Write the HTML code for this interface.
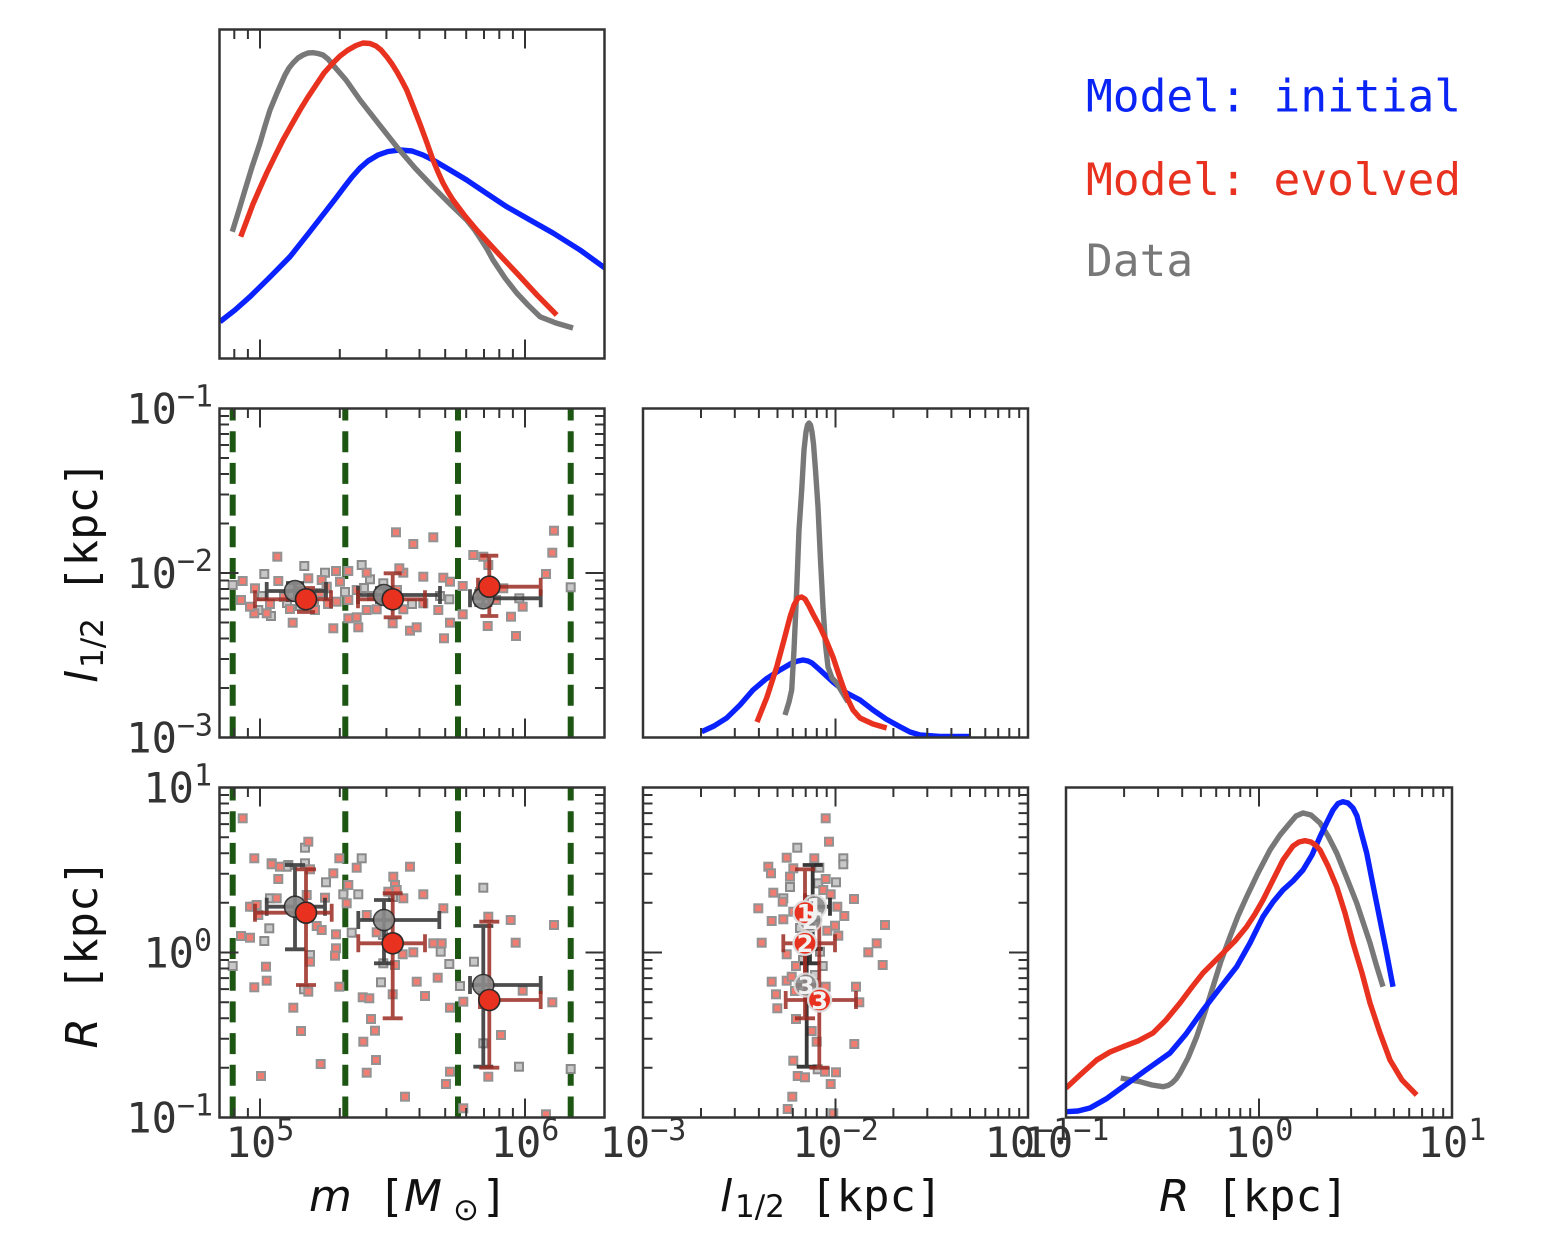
<!DOCTYPE html>
<html>
<head>
<meta charset="utf-8">
<style>
html,body{margin:0;padding:0;background:#fff;}
svg{display:block;}
.tk{font-family:"DejaVu Sans Mono","Liberation Mono",monospace;font-size:42px;fill:#333;}
.sup{font-size:30px;}
.mono{font-family:"DejaVu Sans Mono","Liberation Mono",monospace;font-size:44px;fill:#111;}
.it{font-family:"DejaVu Sans","Liberation Sans",sans-serif;font-style:oblique;font-size:44px;fill:#111;}
.sub{font-family:"DejaVu Sans","Liberation Sans",sans-serif;font-size:31px;fill:#111;}
.leg{font-family:"DejaVu Sans Mono","Liberation Mono",monospace;font-size:44.5px;}
.num{font-family:"DejaVu Sans","Liberation Sans",sans-serif;font-weight:bold;font-size:24px;fill:#f2f2f2;text-anchor:middle;}
</style>
</head>
<body>
<svg width="1562" height="1244" viewBox="0 0 1562 1244" xmlns="http://www.w3.org/2000/svg">
<defs>
<clipPath id="cA"><rect x="219.5" y="29.5" width="385" height="329"/></clipPath>
<clipPath id="cB"><rect x="219.5" y="408.5" width="385" height="329"/></clipPath>
<clipPath id="cC"><rect x="643" y="408.5" width="385" height="329"/></clipPath>
<clipPath id="cD"><rect x="219.5" y="787.5" width="385" height="330"/></clipPath>
<clipPath id="cE"><rect x="643" y="787.5" width="385" height="330"/></clipPath>
<clipPath id="cF"><rect x="1066" y="787.5" width="386" height="330"/></clipPath>
<rect id="rs" x="-4" y="-4" width="8" height="8" fill="#f07c72" stroke="#939393" stroke-width="2"/>
<rect id="gs" x="-4" y="-4" width="8" height="8" fill="#c8c8c8" stroke="#8a8a8a" stroke-width="2"/>
<path id="mx" fill="none" stroke="#333" stroke-width="2" d="M260 0v19M525 0v19M234.3 0v9.5M247.9 0v9.5M339.8 0v9.5M386.4 0v9.5M419.5 0v9.5M445.2 0v9.5M466.2 0v9.5M484 0v9.5M499.3 0v9.5M512.9 0v9.5"/>
<path id="lx" fill="none" stroke="#333" stroke-width="2" d="M835.5 0v19M701 0v9.5M734.8 0v9.5M758.9 0v9.5M777.5 0v9.5M792.8 0v9.5M805.7 0v9.5M816.8 0v9.5M826.7 0v9.5M893.4 0v9.5M927.3 0v9.5M951.4 0v9.5M970 0v9.5M985.3 0v9.5M998.2 0v9.5M1009.3 0v9.5M1019.2 0v9.5"/>
<path id="rx" fill="none" stroke="#333" stroke-width="2" d="M1259 0v19M1124.1 0v9.5M1158.1 0v9.5M1182.2 0v9.5M1200.9 0v9.5M1216.2 0v9.5M1229.1 0v9.5M1240.3 0v9.5M1250.2 0v9.5M1317.1 0v9.5M1351.1 0v9.5M1375.2 0v9.5M1393.9 0v9.5M1409.2 0v9.5M1422.1 0v9.5M1433.3 0v9.5M1443.2 0v9.5"/>
<path id="ly" fill="none" stroke="#333" stroke-width="2" d="M0 573h19M0 688h9.5M0 659h9.5M0 638.5h9.5M0 622.5h9.5M0 609.5h9.5M0 598.5h9.5M0 589h9.5M0 580.5h9.5M0 523.5h9.5M0 494.5h9.5M0 474h9.5M0 458h9.5M0 445h9.5M0 434h9.5M0 424.5h9.5M0 416h9.5"/>
<path id="ry" fill="none" stroke="#333" stroke-width="2" d="M0 952.5h19M0 1067.8h9.5M0 1038.8h9.5M0 1018.2h9.5M0 1002.2h9.5M0 989.1h9.5M0 978.1h9.5M0 968.5h9.5M0 960h9.5M0 902.8h9.5M0 873.8h9.5M0 853.2h9.5M0 837.2h9.5M0 824.1h9.5M0 813.1h9.5M0 803.5h9.5M0 795h9.5"/>
</defs>

<!-- ===== Panel A: top-left KDE of m ===== -->
<g clip-path="url(#cA)" fill="none" stroke-width="5.4" stroke-linejoin="round">
<polyline stroke="#0a22ff" points="220,321.7 235,310 250,296.7 270,277 290,256.7 308,234 326.7,210 336,198 345,186 352,177 360,168 368,161 378,155 388,151.5 400,150 412,151 423,155 433,160 450,170 466.7,180 486,193 506.7,206.7 530,220 553,233 580,250 605,268"/>
<polyline stroke="#787878" points="232.3,231.7 239,210 245,190 252,167 260,143 265,126 270,110 277,93 285,75 289,68 293,63 298,58 303,55 308,53 313,52.7 318,53.5 323,55 328,59 333,65 346,80 360,100 378,123 396.7,146.7 415,168 433,187 450,204 466.7,220 474,229 480,238 487,249 493,260 505,278 516.7,293 528,305 540,316.7 556,323 573,328"/>
<polyline stroke="#e8321f" points="240.7,236.7 247,220 253,204 260,188 266.7,173 275,156 283,140 292,124 300,110 308,97 316,85 324,73 333,63 340,56 348,50 356,45.5 363,43 370,43.5 376,46 381,50 386.7,56.7 392,64 397,72 402,81 406.7,90 413,106 420,124 427,143 433,160 438,172 443,183 448,192 453,200 465,216 476.7,230 496,251 516.7,273 537,295 556.7,315"/>
</g>
<rect x="219.5" y="29.5" width="385" height="329" fill="none" stroke="#333" stroke-width="2.5"/>
<use href="#mx" y="29.5"/>
<use href="#mx" transform="translate(0,358.5) scale(1,-1)"/>

<!-- ===== Panel B: l vs m ===== -->
<g clip-path="url(#cB)">
<g stroke="#1d5512" stroke-width="6" stroke-dasharray="21 10.7" fill="none">
<line x1="232.7" y1="737.5" x2="232.7" y2="408"/>
<line x1="345.3" y1="737.5" x2="345.3" y2="408"/>
<line x1="458" y1="737.5" x2="458" y2="408"/>
<line x1="570.7" y1="737.5" x2="570.7" y2="408"/>
</g>
<g>
<use href="#gs" x="232.7" y="585"/><use href="#gs" x="264.3" y="574"/><use href="#gs" x="304.3" y="566"/><use href="#gs" x="325" y="572.7"/><use href="#gs" x="361.7" y="565"/><use href="#gs" x="370" y="579.3"/><use href="#gs" x="570.7" y="587.3"/><use href="#gs" x="449.3" y="599.3"/><use href="#gs" x="519.3" y="598.3"/><use href="#gs" x="271" y="616"/><use href="#gs" x="326.7" y="588.3"/><use href="#gs" x="258.3" y="610"/><use href="#gs" x="383.3" y="583.3"/><use href="#gs" x="262" y="596"/><use href="#gs" x="345" y="592"/><use href="#gs" x="364" y="588"/><use href="#gs" x="440" y="596"/><use href="#gs" x="412" y="604"/><use href="#gs" x="287" y="603"/><use href="#gs" x="300" y="606"/>
</g>
<g>
<use href="#rs" x="242.7" y="581"/><use href="#rs" x="277.3" y="556.7"/><use href="#rs" x="396" y="532.3"/><use href="#rs" x="413.3" y="544"/><use href="#rs" x="433.3" y="537.3"/><use href="#rs" x="554" y="530.7"/><use href="#rs" x="552.3" y="552.7"/><use href="#rs" x="473.3" y="555"/><use href="#rs" x="483.3" y="556.7"/><use href="#rs" x="488.3" y="565"/><use href="#rs" x="546" y="574"/><use href="#rs" x="336" y="571"/><use href="#rs" x="348.3" y="571"/><use href="#rs" x="366.7" y="572.7"/><use href="#rs" x="403.3" y="572.7"/><use href="#rs" x="423.3" y="576.7"/><use href="#rs" x="443.3" y="577.7"/><use href="#rs" x="450" y="581.7"/><use href="#rs" x="308.3" y="578.3"/><use href="#rs" x="321.7" y="580"/><use href="#rs" x="278.3" y="581"/><use href="#rs" x="399.3" y="568.3"/><use href="#rs" x="462.7" y="586"/><use href="#rs" x="503.3" y="588.3"/><use href="#rs" x="522.7" y="606.7"/><use href="#rs" x="511" y="616.7"/><use href="#rs" x="516" y="636"/><use href="#rs" x="487.7" y="626"/><use href="#rs" x="450" y="622.7"/><use href="#rs" x="444" y="638.3"/><use href="#rs" x="410" y="630.7"/><use href="#rs" x="416.7" y="627.3"/><use href="#rs" x="392.7" y="623.3"/><use href="#rs" x="356.7" y="617.3"/><use href="#rs" x="348.3" y="618.3"/><use href="#rs" x="358.3" y="627.3"/><use href="#rs" x="333.3" y="628.3"/><use href="#rs" x="292.7" y="622.7"/><use href="#rs" x="254.3" y="613.3"/><use href="#rs" x="266.7" y="613.3"/><use href="#rs" x="241" y="600"/><use href="#rs" x="250" y="606.7"/><use href="#rs" x="255" y="588.3"/><use href="#rs" x="340" y="581.7"/><use href="#rs" x="366.7" y="610"/><use href="#rs" x="376.7" y="609.3"/><use href="#rs" x="403.3" y="609.3"/><use href="#rs" x="438.3" y="610"/><use href="#rs" x="462.7" y="614.3"/><use href="#rs" x="423.3" y="603.3"/><use href="#rs" x="348.3" y="600"/><use href="#rs" x="336.7" y="601.7"/><use href="#rs" x="356.7" y="590"/><use href="#rs" x="326.7" y="586.7"/><use href="#rs" x="300" y="595"/><use href="#rs" x="314" y="604"/><use href="#rs" x="320" y="593"/><use href="#rs" x="270" y="604"/><use href="#rs" x="284" y="597"/><use href="#rs" x="290" y="609"/><use href="#rs" x="315" y="610"/><use href="#rs" x="328" y="604"/><use href="#rs" x="372" y="596"/><use href="#rs" x="397" y="590"/><use href="#rs" x="480" y="592"/><use href="#rs" x="496" y="600"/>
</g>
<g fill="none" stroke-width="3.8">
<path stroke="#3a3a3a" opacity="0.9" d="M266.7 591H326M295 583V600M266.7 582v18M326 582v18M286 583h18M286 600h18"/>
<path stroke="#3a3a3a" opacity="0.9" d="M358 595H440M384 588V602M358 586v18M440 586v18M375 588h18M375 602h18"/>
<path stroke="#3a3a3a" opacity="0.9" d="M470 598.3H540.7M483.3 591V605M470 589.3v18M540.7 589.3v18M474.3 591h18M474.3 605h18"/>
<path stroke="#9a2a22" opacity="0.85" d="M255 599.3H331M306 588V612M255 590.3v18M331 590.3v18M297 588h18M297 612h18"/>
<path stroke="#9a2a22" opacity="0.85" d="M358 599.3H425M392.7 573.3V617.3M358 590.3v18M425 590.3v18M383.7 573.3h18M383.7 617.3h18"/>
<path stroke="#9a2a22" opacity="0.85" d="M478 586.7H540.7M489.3 555.7V616M478 577.7v18M540.7 577.7v18M480.3 555.7h18M480.3 616h18"/>
</g>
<g stroke="#2a2a2a" stroke-width="1.6">
<circle cx="295" cy="591" r="10.5" fill="#8a8a8a" opacity="0.9"/>
<circle cx="384" cy="595" r="10.5" fill="#8a8a8a" opacity="0.9"/>
<circle cx="483.3" cy="598.3" r="10.5" fill="#8a8a8a" opacity="0.9"/>
<circle cx="306" cy="599.3" r="10.5" fill="#e8321f"/>
<circle cx="392.7" cy="599.3" r="10.5" fill="#e8321f"/>
<circle cx="489.3" cy="586.7" r="10.5" fill="#e8321f"/>
</g>
</g>
<rect x="219.5" y="408.5" width="385" height="329" fill="none" stroke="#333" stroke-width="2.5"/>
<use href="#mx" y="408.5"/>
<use href="#mx" transform="translate(0,737.5) scale(1,-1)"/>
<use href="#ly" x="219.5"/>
<use href="#ly" transform="translate(604.5,0) scale(-1,1)"/>

<!-- ===== Panel C: KDE of l ===== -->
<g clip-path="url(#cC)" fill="none" stroke-width="5.4" stroke-linejoin="round">
<polyline stroke="#0a22ff" points="701.7,731.7 714,726 726.7,718 740,705 753,690 766,679 780,670 792,663 798,661 803,660 808,661 812,663 820,670 833,682 846.7,693 860,700 873,710 886,719 900,726.7 910,732 920,735 940,736.5 970,736.5"/>
<polyline stroke="#787878" points="785,715 789,702 791.7,690 794,650 796.7,590 799,530 801.7,490 804,450 806,432 807.5,425 809,423 810.5,425 812,432 813.5,444 815.5,470 818,507 820.5,560 823,607 825.5,645 828,667 832,678 836.7,683 842,692 848,702"/>
<polyline stroke="#e8321f" points="757,722 767,697 776.7,667 784,640 790,617 794,605 798,598 801.7,597 805,599 809,606 813,614 820,627 826,640 833,657 840,678 846.7,697 853,710 860,718 873,724 886.7,728"/>
</g>
<rect x="643" y="408.5" width="385" height="329" fill="none" stroke="#333" stroke-width="2.5"/>
<use href="#lx" y="408.5"/>
<use href="#lx" transform="translate(0,737.5) scale(1,-1)"/>

<!-- ===== Panel D: R vs m ===== -->
<g clip-path="url(#cD)">
<g stroke="#1d5512" stroke-width="6" stroke-dasharray="21 10.7" fill="none">
<line x1="232.7" y1="1117.5" x2="232.7" y2="787"/>
<line x1="345.3" y1="1117.5" x2="345.3" y2="787"/>
<line x1="458" y1="1117.5" x2="458" y2="787"/>
<line x1="570.7" y1="1117.5" x2="570.7" y2="787"/>
</g>
<g>
<use href="#gs" x="305" y="847.7"/><use href="#gs" x="361.7" y="858.3"/><use href="#gs" x="288.3" y="865"/><use href="#gs" x="305" y="863.3"/><use href="#gs" x="326" y="882.3"/><use href="#gs" x="358.3" y="894.3"/><use href="#gs" x="483.3" y="887.7"/><use href="#gs" x="343.3" y="894.3"/><use href="#gs" x="270" y="898.3"/><use href="#gs" x="269.3" y="928.3"/><use href="#gs" x="264.3" y="941"/><use href="#gs" x="351.7" y="932.7"/><use href="#gs" x="440.7" y="951.7"/><use href="#gs" x="310" y="955"/><use href="#gs" x="474" y="961.7"/><use href="#gs" x="449.3" y="964"/><use href="#gs" x="232.7" y="966"/><use href="#gs" x="381" y="982.3"/><use href="#gs" x="460" y="986"/><use href="#gs" x="304" y="989.3"/><use href="#gs" x="483.3" y="1043.3"/><use href="#gs" x="519" y="1066.7"/><use href="#gs" x="570.7" y="1069"/><use href="#gs" x="383.3" y="963.3"/><use href="#gs" x="271.7" y="863.3"/><use href="#gs" x="286.7" y="866.7"/><use href="#gs" x="383" y="935"/><use href="#gs" x="393" y="897"/><use href="#gs" x="253.3" y="906.7"/>
</g>
<g>
<use href="#rs" x="242.7" y="818.3"/><use href="#rs" x="308.3" y="841.7"/><use href="#rs" x="254.3" y="858.3"/><use href="#rs" x="339.3" y="858.3"/><use href="#rs" x="271.7" y="864.3"/><use href="#rs" x="280" y="866.7"/><use href="#rs" x="356.7" y="867.7"/><use href="#rs" x="410" y="866.7"/><use href="#rs" x="333.3" y="873.3"/><use href="#rs" x="278.3" y="879"/><use href="#rs" x="393.3" y="876.7"/><use href="#rs" x="395" y="885"/><use href="#rs" x="310" y="869.3"/><use href="#rs" x="348.3" y="885"/><use href="#rs" x="388.3" y="891.7"/><use href="#rs" x="396.7" y="890"/><use href="#rs" x="423.3" y="894.3"/><use href="#rs" x="403.3" y="898.3"/><use href="#rs" x="325" y="897.7"/><use href="#rs" x="306.7" y="895"/><use href="#rs" x="276.7" y="898.3"/><use href="#rs" x="250" y="906.7"/><use href="#rs" x="258.3" y="915"/><use href="#rs" x="443.3" y="908.3"/><use href="#rs" x="366.7" y="915"/><use href="#rs" x="346.7" y="903.3"/><use href="#rs" x="488.3" y="916.7"/><use href="#rs" x="510.7" y="920"/><use href="#rs" x="554" y="925"/><use href="#rs" x="316.7" y="926"/><use href="#rs" x="321.7" y="930"/><use href="#rs" x="336" y="934.3"/><use href="#rs" x="376.7" y="932.3"/><use href="#rs" x="515.7" y="942.7"/><use href="#rs" x="241" y="936"/><use href="#rs" x="250" y="937.7"/><use href="#rs" x="433.3" y="943.3"/><use href="#rs" x="441.7" y="943.3"/><use href="#rs" x="336" y="948.3"/><use href="#rs" x="335" y="955.7"/><use href="#rs" x="413.3" y="952.3"/><use href="#rs" x="402.7" y="954.3"/><use href="#rs" x="310" y="961.7"/><use href="#rs" x="395" y="965"/><use href="#rs" x="266" y="966.7"/><use href="#rs" x="266.7" y="980.7"/><use href="#rs" x="254.3" y="987.3"/><use href="#rs" x="339.3" y="986.7"/><use href="#rs" x="416.7" y="981.7"/><use href="#rs" x="437.7" y="977.7"/><use href="#rs" x="425" y="996"/><use href="#rs" x="362.7" y="997.3"/><use href="#rs" x="369.3" y="998.3"/><use href="#rs" x="392.7" y="994.3"/><use href="#rs" x="522.7" y="990.7"/><use href="#rs" x="552.3" y="1002.3"/><use href="#rs" x="463.3" y="1001.7"/><use href="#rs" x="450" y="1007.7"/><use href="#rs" x="293.3" y="1007.7"/><use href="#rs" x="371" y="1019"/><use href="#rs" x="375" y="1030.7"/><use href="#rs" x="301" y="1031"/><use href="#rs" x="363.3" y="1041.7"/><use href="#rs" x="501" y="1035"/><use href="#rs" x="376" y="1060"/><use href="#rs" x="320.7" y="1064"/><use href="#rs" x="366.7" y="1072.7"/><use href="#rs" x="261" y="1076"/><use href="#rs" x="450" y="1071.7"/><use href="#rs" x="446" y="1084"/><use href="#rs" x="488.3" y="1076.7"/><use href="#rs" x="405" y="1096.7"/><use href="#rs" x="463.3" y="1108.3"/><use href="#rs" x="546" y="1114.3"/><use href="#rs" x="308.3" y="991.7"/><use href="#rs" x="256.7" y="905"/>
</g>
<g fill="none" stroke-width="3.8">
<path stroke="#3a3a3a" opacity="0.9" d="M266.7 906.7H325M295 865V949.3M266.7 897.7v18M325 897.7v18M285 865h20M285 949.3h20"/>
<path stroke="#3a3a3a" opacity="0.9" d="M358.3 920H439.3M384 900V963.3M358.3 911v18M439.3 911v18M374 900h20M374 963.3h20"/>
<path stroke="#3a3a3a" opacity="0.9" d="M470 985H540.7M483.3 926V1066.7M470 976v18M540.7 976v18M473.3 926h20M473.3 1066.7h20"/>
<path stroke="#9a2a22" opacity="0.85" d="M255 912.7H331.7M306 869.3V985M255 903.7v18M331.7 903.7v18M296 869.3h20M296 985h20"/>
<path stroke="#9a2a22" opacity="0.85" d="M358.3 943.3H425M392.7 893.3V1018.3M358.3 934.3v18M425 934.3v18M382.7 893.3h20M382.7 1018.3h20"/>
<path stroke="#9a2a22" opacity="0.85" d="M480 1000H540.7M489.3 921.7V1067.7M480 991v18M540.7 991v18M479.3 921.7h20M479.3 1067.7h20"/>
</g>
<g stroke="#2a2a2a" stroke-width="1.6">
<circle cx="295" cy="906.7" r="10.5" fill="#8a8a8a" opacity="0.9"/>
<circle cx="384" cy="920" r="10.5" fill="#8a8a8a" opacity="0.9"/>
<circle cx="483.3" cy="985" r="10.5" fill="#8a8a8a" opacity="0.9"/>
<circle cx="306" cy="912.7" r="10.5" fill="#e8321f"/>
<circle cx="392.7" cy="943.3" r="10.5" fill="#e8321f"/>
<circle cx="489.3" cy="1000" r="10.5" fill="#e8321f"/>
</g>
</g>
<rect x="219.5" y="787.5" width="385" height="330" fill="none" stroke="#333" stroke-width="2.5"/>
<use href="#mx" y="787.5"/>
<use href="#mx" transform="translate(0,1117.5) scale(1,-1)"/>
<use href="#ry" x="219.5"/>
<use href="#ry" transform="translate(604.5,0) scale(-1,1)"/>

<!-- ===== Panel E: R vs l ===== -->
<g clip-path="url(#cE)">
<g>
<use href="#gs" x="797.3" y="847.7"/><use href="#gs" x="843.3" y="858.3"/><use href="#gs" x="843.3" y="864.3"/><use href="#gs" x="819.3" y="867.7"/><use href="#gs" x="836" y="882.3"/><use href="#gs" x="818.3" y="883.3"/><use href="#gs" x="783.3" y="898.3"/><use href="#gs" x="810" y="900"/><use href="#gs" x="820" y="951.7"/><use href="#gs" x="822.7" y="966"/><use href="#gs" x="817.7" y="1069.3"/><use href="#gs" x="790" y="887"/><use href="#gs" x="812" y="910"/><use href="#gs" x="800" y="928"/><use href="#gs" x="803" y="960"/><use href="#gs" x="815" y="975"/>
</g>
<g>
<use href="#rs" x="825.7" y="818.3"/><use href="#rs" x="829" y="841.7"/><use href="#rs" x="786.7" y="857.7"/><use href="#rs" x="814.3" y="858.3"/><use href="#rs" x="768.3" y="866.7"/><use href="#rs" x="771" y="873.3"/><use href="#rs" x="793.3" y="868.3"/><use href="#rs" x="790" y="876.7"/><use href="#rs" x="825.7" y="879"/><use href="#rs" x="773.3" y="892.7"/><use href="#rs" x="823.3" y="890"/><use href="#rs" x="830.7" y="894.3"/><use href="#rs" x="854" y="899"/><use href="#rs" x="782.7" y="901.7"/><use href="#rs" x="758.3" y="908.3"/><use href="#rs" x="837.3" y="906.7"/><use href="#rs" x="844.3" y="916"/><use href="#rs" x="771.7" y="921"/><use href="#rs" x="783.3" y="919.3"/><use href="#rs" x="793.3" y="911.7"/><use href="#rs" x="885" y="925"/><use href="#rs" x="835" y="925.7"/><use href="#rs" x="827.3" y="930.7"/><use href="#rs" x="838.3" y="935.7"/><use href="#rs" x="761.7" y="942.7"/><use href="#rs" x="876.7" y="943.3"/><use href="#rs" x="868.3" y="952.3"/><use href="#rs" x="786.7" y="954.3"/><use href="#rs" x="882.7" y="965"/><use href="#rs" x="796" y="966"/><use href="#rs" x="771.7" y="981.7"/><use href="#rs" x="786.7" y="980.7"/><use href="#rs" x="791.7" y="976.7"/><use href="#rs" x="856" y="986.7"/><use href="#rs" x="825.7" y="986.7"/><use href="#rs" x="776" y="994.3"/><use href="#rs" x="795" y="991"/><use href="#rs" x="859.3" y="1002.3"/><use href="#rs" x="777.3" y="1008.3"/><use href="#rs" x="796" y="1019"/><use href="#rs" x="811.7" y="1031"/><use href="#rs" x="816.7" y="1041.7"/><use href="#rs" x="854.3" y="1044"/><use href="#rs" x="793.3" y="1060.7"/><use href="#rs" x="797.7" y="1076"/><use href="#rs" x="805" y="1077.3"/><use href="#rs" x="825" y="1071.7"/><use href="#rs" x="836" y="1072.3"/><use href="#rs" x="830.7" y="1084"/><use href="#rs" x="792.3" y="1096.7"/><use href="#rs" x="787.7" y="1109"/><use href="#rs" x="833.3" y="1113.3"/>
</g>
<g fill="none" stroke-width="3.8">
<path stroke="#222" opacity="0.9" d="M803 906.7H830M812.7 865V949M830 897.7v18M802.7 865h20M802.7 949h20"/>
<path stroke="#222" opacity="0.9" d="M800 920H822M810 900V963.3M800 963.3h20"/>
<path stroke="#222" opacity="0.9" d="M796 985H816M806.7 926V1066.7M796.7 1066.7h20"/>
<path stroke="#9a2a22" opacity="0.85" d="M792 912.7H820M805 869.3V985M795 869.3h20M795 985h20"/>
<path stroke="#9a2a22" opacity="0.85" d="M783.3 943.3H835M805 893.3V1018.3M783.3 934.3v18M835 934.3v18M795 1018.3h20"/>
<path stroke="#9a2a22" opacity="0.85" d="M785.7 1000H856M819.3 921.7V1067.7M785.7 991v18M856 991v18M809.3 1067.7h20"/>
</g>
<g stroke="#dcdcdc" stroke-width="2.2">
<circle cx="814.6" cy="906.7" r="11.5" fill="#8a8a8a" opacity="0.9"/>
<circle cx="810" cy="920" r="11.5" fill="#8a8a8a" opacity="0.9"/>
<circle cx="806" cy="985" r="11.5" fill="#8a8a8a" opacity="0.9"/>
<circle cx="805" cy="912.7" r="11.5" fill="#e8321f"/>
<circle cx="805" cy="943.3" r="11.5" fill="#e8321f"/>
<circle cx="819.6" cy="1000" r="11.5" fill="#e8321f"/>
</g>
<text class="num" x="814.6" y="915.5">1</text>
<text class="num" x="810" y="929">2</text>
<text class="num" x="806" y="994">3</text>
<text class="num" x="805" y="921.5">1</text>
<text class="num" x="805" y="952">2</text>
<text class="num" x="819.6" y="1009">3</text>
</g>
<rect x="643" y="787.5" width="385" height="330" fill="none" stroke="#333" stroke-width="2.5"/>
<use href="#lx" y="787.5"/>
<use href="#lx" transform="translate(0,1117.5) scale(1,-1)"/>
<use href="#ry" x="643"/>
<use href="#ry" transform="translate(1028,0) scale(-1,1)"/>

<!-- ===== Panel F: KDE of R ===== -->
<g clip-path="url(#cF)" fill="none" stroke-width="5.4" stroke-linejoin="round">
<polyline stroke="#787878" points="1120.7,1078 1140,1081.7 1152,1085 1163,1086.7 1168,1085.5 1172,1083 1176,1079 1180,1073 1188,1058 1196.7,1036.7 1205,1012 1213,986.7 1221,961 1230,936.7 1238,916 1246.7,896.7 1258,873 1270,850 1280,835 1290,823 1296,816 1303,813 1311,815 1320,823 1328,836 1336.7,853 1346,876 1356.7,903 1363,922 1370,943 1376,964 1383,986.7"/>
<polyline stroke="#0a22ff" points="1066,1111.7 1078,1111 1090,1108 1106,1099 1123,1086.7 1146,1070 1170,1053 1186,1034 1203,1010 1220,988 1236.7,966.7 1250,943 1263,916.7 1273,902 1283,890 1293,881 1303,870 1312,855 1320,836.7 1327,822 1333,810 1338,803.5 1343,801.7 1348,803 1353,808 1357,816 1360,828 1366.7,853 1373,885 1380,920 1387,955 1393,986.7"/>
<polyline stroke="#e8321f" points="1066,1088 1080,1075 1096.7,1060 1110,1052 1123,1046.7 1138,1041 1153,1033 1166,1020 1180,1003 1192,987 1203,973 1213,963 1223,953 1235,941 1246.7,926.7 1255,914 1263,900 1273,880 1283,860 1293,846 1299,842 1305,840.7 1311,842 1316,845.5 1320,850 1328,866 1336.7,886.7 1345,913 1353,943 1362,973 1370,1003 1380,1033 1390,1060 1402,1080 1416.7,1095"/>
</g>
<rect x="1066" y="787.5" width="386" height="330" fill="none" stroke="#333" stroke-width="2.5"/>
<use href="#rx" y="787.5"/>
<use href="#rx" transform="translate(0,1117.5) scale(1,-1)"/>

<!-- ===== Tick labels ===== -->
<g class="tk">
<text x="213" y="423.5" text-anchor="end">10<tspan class="sup" dy="-17">−1</tspan></text>
<text x="213" y="588" text-anchor="end">10<tspan class="sup" dy="-17">−2</tspan></text>
<text x="213" y="752.5" text-anchor="end">10<tspan class="sup" dy="-17">−3</tspan></text>
<text x="212" y="802.5" text-anchor="end">10<tspan class="sup" dy="-17">1</tspan></text>
<text x="212" y="967.5" text-anchor="end">10<tspan class="sup" dy="-17">0</tspan></text>
<text x="213" y="1132.5" text-anchor="end">10<tspan class="sup" dy="-17">−1</tspan></text>

<text x="260" y="1157" text-anchor="middle">10<tspan class="sup" dy="-17">5</tspan></text>
<text x="525" y="1157" text-anchor="middle">10<tspan class="sup" dy="-17">6</tspan></text>
<text x="643" y="1157" text-anchor="middle">10<tspan class="sup" dy="-17">−3</tspan></text>
<text x="835.5" y="1157" text-anchor="middle">10<tspan class="sup" dy="-17">−2</tspan></text>
<text x="1028" y="1157" text-anchor="middle">10<tspan class="sup" dy="-17">−1</tspan></text>
<text x="1066" y="1157" text-anchor="middle">10<tspan class="sup" dy="-17">−1</tspan></text>
<text x="1259" y="1157" text-anchor="middle">10<tspan class="sup" dy="-17">0</tspan></text>
<text x="1452" y="1157" text-anchor="middle">10<tspan class="sup" dy="-17">1</tspan></text>
</g>

<!-- ===== Axis labels ===== -->
<text class="it" x="309" y="1211">m</text>
<text class="mono" x="378" y="1211">[</text>
<text class="it" x="404" y="1211">M</text>
<text class="sub" x="466" y="1220" text-anchor="middle">⊙</text>
<text class="mono" x="481" y="1211">]</text>

<text class="it" x="720" y="1211">l</text>
<text class="sub" x="735" y="1217">1/2</text>
<text class="mono" x="810" y="1211">[kpc]</text>

<text class="it" x="1159" y="1211">R</text>
<text class="mono" x="1216" y="1211">[kpc]</text>

<g transform="translate(97,572.5) rotate(-90)">
<text class="it" x="-110.5" y="0">l</text>
<text class="sub" x="-95.5" y="6">1/2</text>
<text class="mono" x="-20.5" y="0">[kpc]</text>
</g>
<g transform="translate(97,952.5) rotate(-90)">
<text class="it" x="-96" y="0">R</text>
<text class="mono" x="-39" y="0">[kpc]</text>
</g>

<!-- ===== Legend ===== -->
<text class="leg" x="1086" y="111.7" fill="#0a24f5">Model: initial</text>
<text class="leg" x="1086" y="195" fill="#e8321f">Model: evolved</text>
<text class="leg" x="1086" y="276" fill="#787878">Data</text>
</svg>
</body>
</html>
